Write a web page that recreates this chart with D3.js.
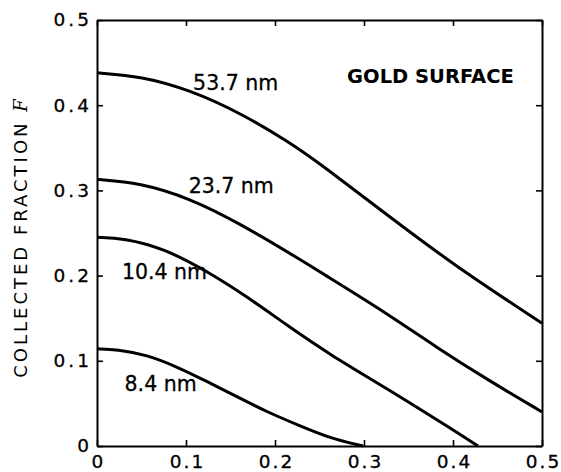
<!DOCTYPE html>
<html>
<head>
<meta charset="utf-8">
<script src="https://cdn.jsdelivr.net/npm/d3@7"></script>
<style>
  body { margin: 0; background: #fff; }
  svg text { font-family: "DejaVu Sans", sans-serif; fill: #000; }
</style>
</head>
<body>
<div id="chart"></div>
<script>
// values: [x, F]
const curve537 = [[0, 0.438], [0.05, 0.434], [0.104, 0.418], [0.161, 0.391], [0.217, 0.356],
  [0.251, 0.331], [0.325, 0.272], [0.400, 0.213], [0.500, 0.144]];
const curve237 = [[0, 0.313], [0.048, 0.309], [0.104, 0.291], [0.161, 0.261], [0.228, 0.219],
  [0.251, 0.204], [0.315, 0.163], [0.384, 0.114], [0.440, 0.077], [0.500, 0.040]];
const curve104 = [[0, 0.245], [0.030, 0.244], [0.075, 0.232], [0.124, 0.205], [0.169, 0.175],
  [0.213, 0.142], [0.262, 0.107], [0.325, 0.068], [0.400, 0.019], [0.428, 0]];
const curve84 = [[0, 0.114], [0.0225, 0.1135], [0.056, 0.107], [0.090, 0.093], [0.124, 0.0755],
  [0.157, 0.058], [0.191, 0.040], [0.225, 0.025], [0.262, 0.009], [0.299, 0]];
const xTicks = [0, 0.1, 0.2, 0.3, 0.4, 0.5];
const yTicks = [0, 0.1, 0.2, 0.3, 0.4, 0.5];
// curve labels, anchored in data units
const labels = [
  {text: '53.7 nm', x: 0.108, y: 0.418},
  {text: '23.7 nm', x: 0.103, y: 0.297},
  {text: '10.4 nm', x: 0.028, y: 0.196},
  {text: '8.4 nm', x: 0.031, y: 0.065}
];

const W = 561, H = 472;
const margin = {top: 20, right: 19, bottom: 26, left: 97};
const width = W - margin.left - margin.right;
const height = H - margin.top - margin.bottom;

const svg = d3.select('#chart').append('svg')
  .attr('width', W)
  .attr('height', H);

const g = svg.append('g')
  .attr('transform', `translate(${margin.left},${margin.top})`);

const x = d3.scaleLinear().domain([0, 0.5]).range([0, width]);
const y = d3.scaleLinear().domain([0, 0.5]).range([height, 0]);

const fmt = d => d === 0 ? '0' : d3.format('.1f')(d);

// axes, ticks pointing inward
const axBottom = g.append('g')
  .attr('transform', `translate(0,${height})`)
  .call(d3.axisBottom(x).tickValues(xTicks).tickFormat(fmt).tickSizeInner(-6).tickSizeOuter(0).tickPadding(9));
const axLeft = g.append('g')
  .call(d3.axisLeft(y).tickValues(yTicks).tickFormat(fmt).tickSizeInner(-6).tickSizeOuter(0).tickPadding(5));
const axTop = g.append('g')
  .call(d3.axisTop(x).tickValues(xTicks).tickFormat('').tickSizeInner(-6).tickSizeOuter(0));
const axRight = g.append('g')
  .attr('transform', `translate(${width},0)`)
  .call(d3.axisRight(y).tickValues(yTicks).tickFormat('').tickSizeInner(-6).tickSizeOuter(0));

[axBottom, axLeft, axTop, axRight].forEach(a => {
  a.select('.domain').attr('stroke', '#000').attr('stroke-width', 2);
  a.selectAll('.tick line').attr('stroke', '#000').attr('stroke-width', 1.6);
  a.selectAll('.tick text')
    .style('font-family', '"DejaVu Sans", sans-serif')
    .style('font-size', '18.5px')
    .style('letter-spacing', '3px')
    .attr('stroke', '#000')
    .attr('stroke-width', 0.3);
});
axBottom.selectAll('.tick text')
  .style('letter-spacing', '2px')
  .attr('dx', '1');

// curves (basis smooths out the reading noise)
const line = d3.line()
  .x(d => x(d[0]))
  .y(d => y(d[1]))
  .curve(d3.curveBasis);

[curve537, curve237, curve104, curve84].forEach(c => {
  g.append('path')
    .datum(c)
    .attr('fill', 'none')
    .attr('stroke', '#000')
    .attr('stroke-width', 3)
    .attr('d', line);
});

g.selectAll('.curve-label')
  .data(labels)
  .enter()
  .append('text')
  .attr('class', 'curve-label')
  .attr('x', d => x(d.x))
  .attr('y', d => y(d.y))
  .style('font-size', '20.5px')
  .attr('stroke', '#000')
  .attr('stroke-width', 0.3)
  .text(d => d.text);

g.append('text')
  .attr('x', x(0.281))
  .attr('y', y(0.426))
  .style('font-size', '19.5px')
  .style('font-weight', 'bold')
  .text('GOLD SURFACE');

// y axis title
const yt = svg.append('text')
  .attr('transform', `translate(27,237) rotate(-90)`)
  .attr('text-anchor', 'middle')
  .style('font-size', '18px')
  .style('letter-spacing', '3px');
yt.append('tspan').text('COLLECTED FRACTION ');
yt.append('tspan')
  .style('font-family', '"DejaVu Serif", serif')
  .style('font-style', 'italic')
  .text('F');
</script>
</body>
</html>
